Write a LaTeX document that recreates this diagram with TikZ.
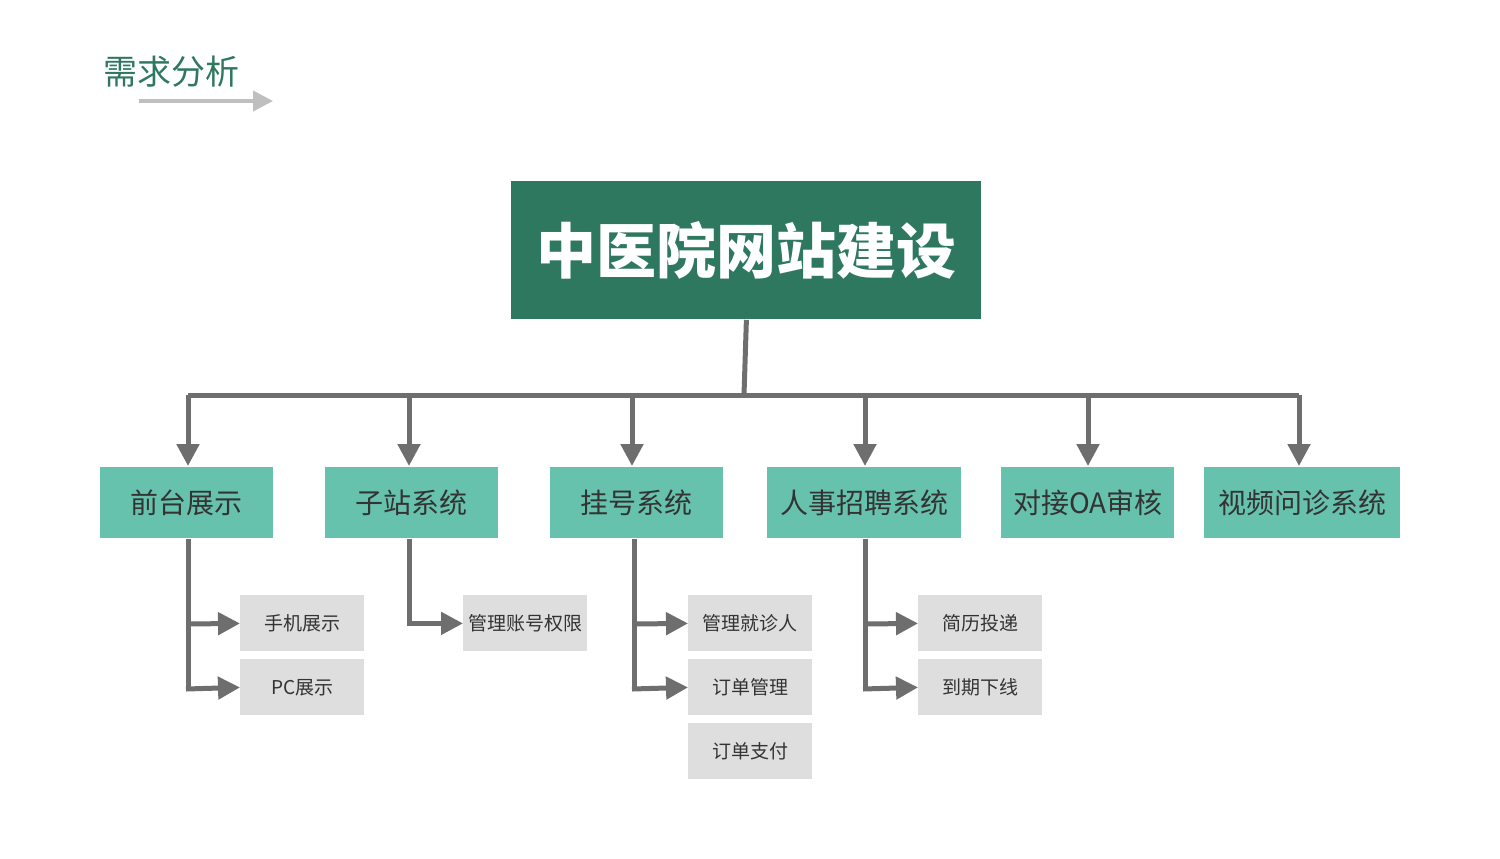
\documentclass[tikz,border=0pt]{standalone}
\usepackage{fontspec}
\setmainfont{Noto Sans CJK SC}
\usetikzlibrary{arrows.meta}
\definecolor{dg}{HTML}{2E7860}
\definecolor{lg}{HTML}{67C2AD}
\definecolor{gb}{HTML}{DEDEDE}
\definecolor{ln}{HTML}{6E6E6E}
\definecolor{tx}{HTML}{333333}
\begin{document}
\begin{tikzpicture}[x=0.5pt,y=-0.5pt,
 lvl/.style={fill=lg,text=tx,font=\fontsize{14}{16}\selectfont,inner sep=0,anchor=north west},
 leaf/.style={fill=gb,text=tx,font=\fontsize{9.5}{11}\selectfont,minimum width=62pt,minimum height=28pt,inner sep=0,anchor=north west},
 con/.style={draw=ln,line width=2.5pt},
 arr/.style={con,-{Triangle[length=11pt,width=11pt]}}]
\useasboundingbox (0,0) rectangle (1500,858);
\node[text=dg,font=\fontsize{17}{20}\selectfont,anchor=west] (hd) at (96,72) {需求分析};
\coordinate (ha) at (139,101); \coordinate (hb) at (273,101);
\draw[draw=gray!50,line width=2pt,-{Triangle[length=10pt,width=10pt]}] (ha) -- (hb);
\node[fill=dg,text=white,font=\bfseries\fontsize{30}{34}\selectfont,minimum width=235pt,minimum height=69pt,inner sep=0,anchor=north west] (top) at (511,181) {中医院网站建设};
\foreach \n/\x/\w/\t in {a/100/173/前台展示,b/325/173/子站系统,c/550/173/挂号系统,d/767/194/人事招聘系统,e/1001/173/对接OA审核,f/1204/196/视频问诊系统}
 \node[lvl,minimum width=\w*0.5pt,minimum height=35.5pt] (\n) at (\x,467) {\t};
\coordinate (j) at (744,395);
\coordinate (ja) at (188,395); \coordinate (jf) at (1299,395);
\draw[con] (top.south) -- (j);
\draw[con] (ja) -- (jf);
\foreach \n/\x in {a/188,b/409,c/632,d/865,e/1088,f/1299}{
 \coordinate (t\n) at (\x,395); \coordinate (e\n) at (\x,466);
 \draw[arr] (t\n) -- (e\n);}
\node[leaf] (a1) at (240,595) {手机展示};
\node[leaf] (a2) at (240,659) {PC展示};
\node[leaf] (b1) at (463,595) {管理账号权限};
\node[leaf] (c1) at (688,595) {管理就诊人};
\node[leaf] (c2) at (688,659) {订单管理};
\node[leaf] (c3) at (688,723) {订单支付};
\node[leaf] (d1) at (918,595) {简历投递};
\node[leaf] (d2) at (918,659) {到期下线};
\draw[con] (a.south -| 188,0) -- (188,689);
\draw[arr] (188,624) -- (a1.west);
\draw[arr] (186,689) -- (a2.west);
\draw[arr] (b.south -| 409,0) |- (b1.west);
\draw[con] (c.south -| 634,0) -- (634,689);
\draw[arr] (634,624) -- (c1.west);
\draw[arr] (632,689) -- (c2.west);
\draw[con] (d.south -| 865,0) -- (865,689);
\draw[arr] (865,624) -- (d1.west);
\draw[arr] (863,689) -- (d2.west);
\end{tikzpicture}
\end{document}
